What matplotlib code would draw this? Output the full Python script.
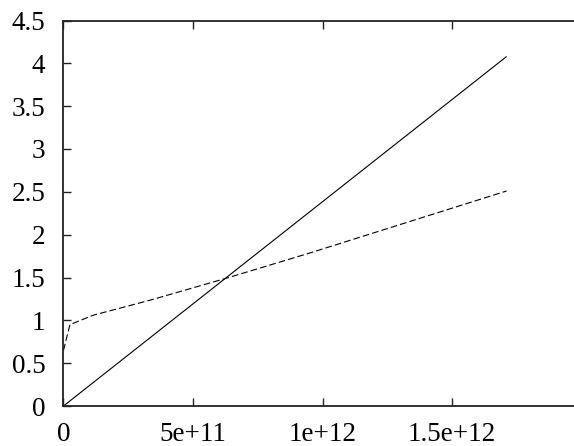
import matplotlib
matplotlib.use("Agg")
import matplotlib.pyplot as plt

x_solid = [0.0, 1.711e12]
y_solid = [0.0, 4.08]

x_dash = [0.0, 2.5e10, 1.15e11, 3.34e11, 6.27e11, 9.52e11, 1.711e12]
y_dash = [0.65, 0.95, 1.06, 1.235, 1.49, 1.787, 2.51]

xticks = [0, 5e11, 1e12, 1.5e12]
xticklabels = ["0", "5e+11", "1e+12", "1.5e+12"]
yticks = [0, 0.5, 1, 1.5, 2, 2.5, 3, 3.5, 4, 4.5]
yticklabels = ["0", "0.5", "1", "1.5", "2", "2.5", "3", "3.5", "4", "4.5"]

plt.rcParams['font.family'] = ['Liberation Serif', 'DejaVu Serif']

fig = plt.figure(figsize=(5.74, 4.46), dpi=100)
ax = fig.add_axes([63.5/574, 40/446, (581.5-63.5)/574, 385.5/446])

ax.plot(x_solid, y_solid, color='black', lw=0.8, solid_capstyle='butt')
ln, = ax.plot(x_dash, y_dash, color='black', lw=0.8)
ln.set_dashes((6, 2.8))

ax.set_xlim(0, 2e12)
ax.set_ylim(0, 4.5)
ax.set_xticks(xticks)
ax.set_xticklabels(xticklabels)
ax.set_yticks(yticks)
ax.set_yticklabels(yticklabels)

for s in ax.spines.values():
    s.set_linewidth(1.3)
    s.set_color('#222222')

ax.tick_params(axis='both', direction='in', length=6, width=1.0, color='#222222',
               labelsize=19.5, top=True, right=True)
ax.tick_params(axis='y', pad=13)
ax.tick_params(axis='x', pad=11.5)

fig.savefig("out.png", dpi=100)
